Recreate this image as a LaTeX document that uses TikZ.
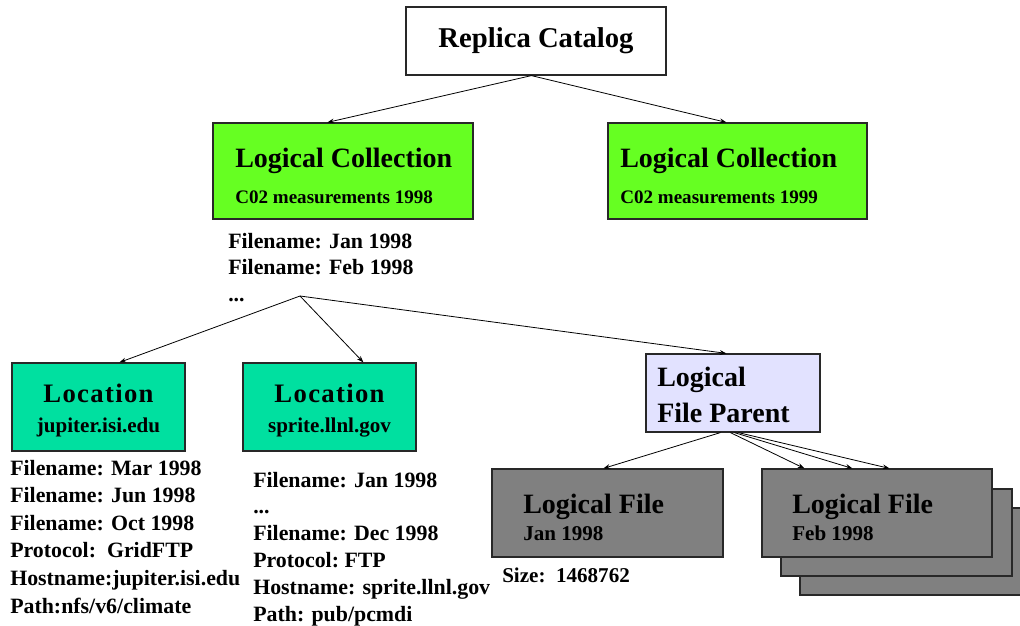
\documentclass[tikz,border=0pt]{standalone}
\usepackage{fontspec}
\setmainfont{Liberation Serif}
\usetikzlibrary{calc,arrows.meta}
\definecolor{lcgreen}{RGB}{102,255,34}
\definecolor{locteal}{RGB}{0,224,160}
\definecolor{parentlav}{RGB}{226,226,255}
\definecolor{filegray}{RGB}{128,128,128}
\definecolor{edgecol}{RGB}{40,40,40}
\begin{document}
\begin{tikzpicture}[x=0.75pt,y=-0.75pt,
  box/.style={draw=edgecol, line width=0.9pt, inner sep=0pt},
  sz/.style args={#1/#2}{minimum width=#1*0.75pt, minimum height=#2*0.75pt},
  conn/.style={draw=black, line width=0.6pt, -{Stealth[length=5pt,width=3.6pt]}},
  txt/.style={inner sep=0pt, anchor=base west},
  titlef/.style={font=\fontsize{21.5}{24}\selectfont\bfseries},
  bigf/.style={font=\fontsize{21}{24}\selectfont\bfseries},
  subf/.style={font=\fontsize{14.3}{17}\selectfont\bfseries},
  locf/.style={font=\fontsize{20}{24}\selectfont\bfseries\addfontfeatures{LetterSpace=5}},
  midf/.style={font=\fontsize{15.8}{20}\selectfont\bfseries},
]
\useasboundingbox (0,0) rectangle (1020,625);

% Replica catalog
\node[box, fill=white, sz=260/68, titlef] (rc) at (536,41) {Replica Catalog};

% Logical collections
\node[box, fill=lcgreen, sz=260/96] (lc1) at (343,171) {};
\node[txt, bigf] (lc1t) at (235,167) {Logical Collection};
\node[txt, subf] (lc1s) at (235,203) {C02 measurements 1998};
\node[box, fill=lcgreen, sz=259/96] (lc2) at (737.5,171) {};
\node[txt, bigf] (lc2t) at (620,167) {Logical Collection};
\node[txt, subf] (lc2s) at (620,203) {C02 measurements 1999};

\node[txt, font=\fontsize{16.4}{20.2}\selectfont\bfseries] (lc1files) at (228,248)
  {\vtop{\hbox{Filename: Jan 1998}\hbox{Filename: Feb 1998}\hbox{...}}};

% Locations
\node[box, fill=locteal, sz=173/88] (loc1) at (98.5,407) {};
\node[inner sep=0pt, anchor=base, locf] (loc1t) at (98.5,402) {Location};
\node[inner sep=0pt, anchor=base, midf] (loc1s) at (98.5,432) {jupiter.isi.edu};
\node[box, fill=locteal, sz=173/88] (loc2) at (329.5,407) {};
\node[inner sep=0pt, anchor=base, locf] (loc2t) at (329.5,402) {Location};
\node[inner sep=0pt, anchor=base, midf] (loc2s) at (329.5,432) {sprite.llnl.gov};

\node[txt, font=\fontsize{16.4}{20.7}\selectfont\bfseries] (loc1list) at (10,475)
  {\vtop{\hbox{Filename: Mar 1998}\hbox{Filename: Jun 1998}\hbox{Filename: Oct 1998}\hbox{Protocol:\ \ GridFTP}\hbox{Hostname:jupiter.isi.edu}\hbox{Path:nfs/v6/climate}}};
\node[txt, font=\fontsize{16.4}{20.2}\selectfont\bfseries] (loc2list) at (253,487)
  {\vtop{\hbox{Filename: Jan 1998}\hbox{...}\hbox{Filename: Dec 1998}\hbox{Protocol:\ FTP}\hbox{Hostname: sprite.llnl.gov}\hbox{Path: pub/pcmdi}}};

% Logical file parent
\node[box, fill=parentlav, sz=174/78] (lfp) at (733,393) {};
\node[txt, bigf] (lfpt1) at (657,386) {Logical};
\node[txt, bigf] (lfpt2) at (657,422) {File Parent};

% Logical files
\node[box, fill=filegray, sz=231/88] (lfjan) at (607.5,513) {};
\node[txt, bigf] (lfjant) at (523,513) {Logical File};
\node[txt, midf] (lfjans) at (523,540) {Jan 1998};
\node[txt, midf] (size) at (502,582) {Size:\ \ 1468762};

\node[box, fill=filegray, sz=231/87] (lffeb3) at (915.5,551.5) {};
\node[box, fill=filegray, sz=231/87] (lffeb2) at (896.5,532.5) {};
\node[box, fill=filegray, sz=230/88] (lffeb) at (877,513) {};
\node[txt, bigf] (lffebt) at (792,513) {Logical File};
\node[txt, midf] (lffebs) at (792,540) {Feb 1998};

% connectors
\coordinate (rcout) at ($(rc.south west)+(126,0)$);
\draw[conn] (rcout) -- ($(lc1.north west)+(115,0)$);
\draw[conn] (rcout) -- ($(lc2.north west)+(119,0)$);

\coordinate (branch) at (300,296);
\draw[conn] (branch) -- ($(loc1.north west)+(108,0)$);
\draw[conn] (branch) -- ($(loc2.north west)+(121,0)$);
\draw[conn] (branch) -- ($(lfp.north west)+(81,0)$);

\draw[conn] ($(lfp.south west)+(75,0)$) -- ($(lfjan.north west)+(112,0)$);
\draw[conn] ($(lfp.south west)+(85,0)$) -- ($(lffeb.north west)+(43,0)$);
\draw[conn] ($(lfp.south west)+(89,0)$) -- ($(lffeb.north west)+(91,0)$);
\draw[conn] ($(lfp.south west)+(93,0)$) -- ($(lffeb.north west)+(128,0)$);
\end{tikzpicture}
\end{document}
